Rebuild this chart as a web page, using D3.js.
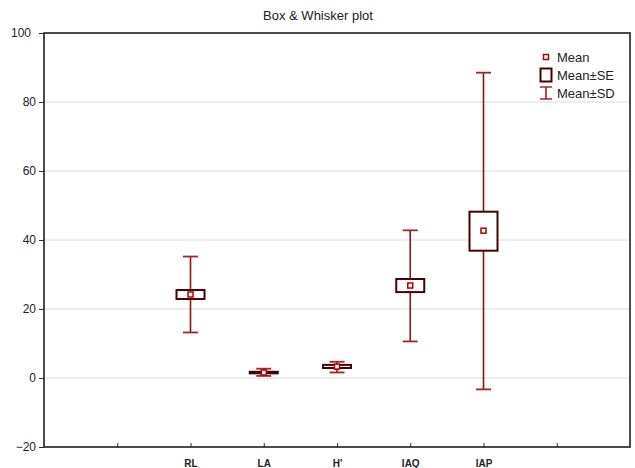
<!DOCTYPE html>
<html><head><meta charset="utf-8">
<script src="https://cdn.jsdelivr.net/npm/d3@7"></script>
<style>
html,body{margin:0;padding:0;background:#fff;}
svg{display:block;font-family:"Liberation Sans",Arial,sans-serif;}
</style></head>
<body>
<svg id="chart" width="635" height="468"></svg>
<script>
const categories = ["RL", "LA", "H'", "IAQ", "IAP"];
const means  = [24.2, 1.6, 3.3, 26.8, 42.7];
const seLow  = [22.9, 1.35, 2.9, 24.9, 36.9];
const seHigh = [25.5, 1.8, 3.8, 28.7, 48.2];
const sdLow  = [13.2, 0.6, 1.6, 10.6, -3.3];
const sdHigh = [35.2, 2.7, 4.7, 42.8, 88.5];
const yTicks = [-20, 0, 20, 40, 60, 80, 100];
const xTickPositions = [1, 2, 3, 4, 5, 6, 7];
const legendLabels = ["Mean", "Mean\u00B1SE", "Mean\u00B1SD"];
const title = "Box & Whisker plot";

const data = categories.map((c, i) => ({
  cat: c, pos: i + 2, mean: means[i], seL: seLow[i], seH: seHigh[i], sdL: sdLow[i], sdH: sdHigh[i]
}));

const svg = d3.select("#chart");
const L = 44, R = 630, T = 33, B = 447;
const x = d3.scaleLinear().domain([0, 8]).range([L, R]);
const y = d3.scaleLinear().domain([-20, 100]).range([B, T]);

const whiskerColor = "#8e1414";
const capColor = "#9a2a2a";
const boxColor = "#4a0000";
const meanColor = "#b00000";

// title
svg.append("text").attr("x", 318).attr("y", 20).attr("text-anchor", "middle")
  .attr("font-size", 13).attr("fill", "#222").text(title);

// gridlines
svg.append("g").selectAll("line").data(yTicks.filter(v => v > -20 && v < 100)).join("line")
  .attr("x1", L).attr("x2", R).attr("y1", d => y(d)).attr("y2", d => y(d))
  .attr("stroke", "#dadada").attr("stroke-width", 1);

// y axis
const yAxis = svg.append("g").attr("transform", `translate(${L},0)`)
  .call(d3.axisLeft(y).tickValues(yTicks).tickSize(5).tickPadding(3));
yAxis.select(".domain").remove();
yAxis.selectAll("text").attr("font-size", 12).attr("fill", "#222")
  .attr("font-family", "'Liberation Sans', Arial, sans-serif")
  .attr("dx", d => d === 100 ? -5 : 0);
yAxis.selectAll("line").attr("stroke", "#333");

// x axis
const xAxis = svg.append("g").attr("transform", `translate(0,${B})`)
  .call(d3.axisBottom(x).tickValues(xTickPositions)
    .tickFormat(v => { const d = data.find(e => e.pos === v); return d ? d.cat : ""; })
    .tickSize(-4).tickPadding(13));
xAxis.select(".domain").remove();
xAxis.selectAll("text").attr("font-size", 10).attr("font-weight", "bold").attr("fill", "#222")
  .attr("font-family", "'Liberation Sans', Arial, sans-serif");
xAxis.selectAll("line").attr("stroke", "#333");

// whiskers
const g = svg.append("g");
g.selectAll(".wh").data(data).join("line").attr("class", "wh")
  .attr("x1", d => x(d.pos)).attr("x2", d => x(d.pos))
  .attr("y1", d => y(d.sdL)).attr("y2", d => y(d.sdH))
  .attr("stroke", whiskerColor).attr("stroke-width", 1.6);
const capW = 15;
g.selectAll(".capL").data(data).join("line").attr("class", "capL")
  .attr("x1", d => x(d.pos) - capW / 2).attr("x2", d => x(d.pos) + capW / 2)
  .attr("y1", d => y(d.sdL)).attr("y2", d => y(d.sdL))
  .attr("stroke", capColor).attr("stroke-width", 1.8);
g.selectAll(".capH").data(data).join("line").attr("class", "capH")
  .attr("x1", d => x(d.pos) - capW / 2).attr("x2", d => x(d.pos) + capW / 2)
  .attr("y1", d => y(d.sdH)).attr("y2", d => y(d.sdH))
  .attr("stroke", capColor).attr("stroke-width", 1.8);

// SE boxes
const boxW = 28;
g.selectAll(".box").data(data).join("rect").attr("class", "box")
  .attr("x", d => x(d.pos) - boxW / 2).attr("width", boxW)
  .attr("y", d => y(d.seH)).attr("height", d => y(d.seL) - y(d.seH))
  .attr("fill", "#fff").attr("stroke", boxColor).attr("stroke-width", 2);

// mean markers
const mS = 5;
g.selectAll(".mean").data(data).join("rect").attr("class", "mean")
  .attr("x", d => x(d.pos) - mS / 2).attr("y", d => y(d.mean) - mS / 2)
  .attr("width", mS).attr("height", mS)
  .attr("fill", "#fff").attr("stroke", meanColor).attr("stroke-width", 1.5);

// frame
svg.append("rect").attr("x", L).attr("y", T).attr("width", R - L).attr("height", B - T)
  .attr("fill", "none").attr("stroke", "#111").attr("stroke-width", 1.5);

// legend
const lx = 546, rows = [57, 75, 93];
const lg = svg.append("g");
lg.append("rect").attr("x", lx - 2.5).attr("y", rows[0] - 2.5).attr("width", 5).attr("height", 5)
  .attr("fill", "#fff").attr("stroke", meanColor).attr("stroke-width", 1.5);
lg.append("rect").attr("x", lx - 5.5).attr("y", rows[1] - 6.5).attr("width", 11).attr("height", 13)
  .attr("fill", "#fff").attr("stroke", boxColor).attr("stroke-width", 2);
lg.append("line").attr("x1", lx).attr("x2", lx).attr("y1", rows[2] - 6).attr("y2", rows[2] + 6)
  .attr("stroke", whiskerColor).attr("stroke-width", 1.5);
[rows[2] - 6, rows[2] + 6].forEach(yy => lg.append("line")
  .attr("x1", lx - 6).attr("x2", lx + 6).attr("y1", yy).attr("y2", yy)
  .attr("stroke", capColor).attr("stroke-width", 1.5));
lg.selectAll("text").data(legendLabels).join("text")
  .attr("x", lx + 11).attr("y", (d, i) => rows[i]).attr("dy", "0.35em")
  .attr("font-size", 13).attr("fill", "#222").text(d => d);
</script>
</body></html>
